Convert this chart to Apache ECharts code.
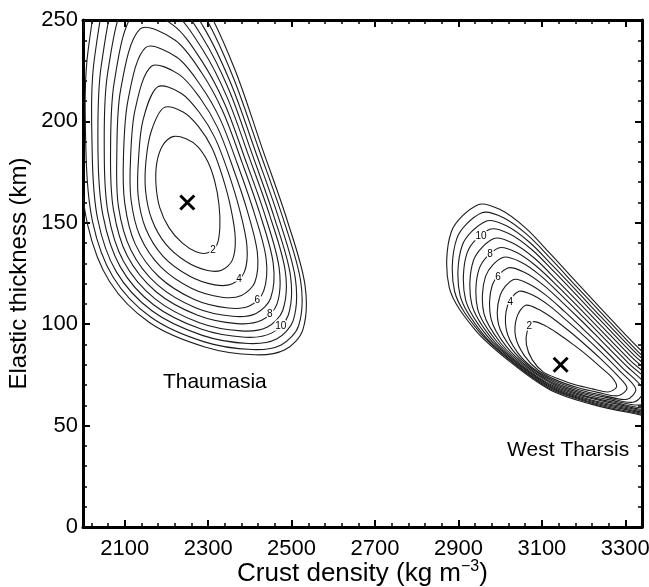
<!DOCTYPE html>
<html>
<head>
<meta charset="utf-8">
<script src="https://cdn.jsdelivr.net/npm/echarts@6/dist/echarts.min.js"></script>
<style>
  html, body { margin: 0; padding: 0; background: #fff; }
  #chart { width: 649px; height: 587px; }
</style>
</head>
<body>
<div id="chart"></div>
<script>
// Axis ticks (crust density in kg m^-3, elastic thickness in km)
const xMajorTicks = [2100, 2300, 2500, 2700, 2900, 3100, 3300];
const xMinorTicks = [2020, 2060, 2140, 2180, 2220, 2260, 2340, 2380, 2420, 2460,
                     2540, 2580, 2620, 2660, 2740, 2780, 2820, 2860, 2940, 2980,
                     3020, 3060, 3140, 3180, 3220, 3260];
const yMajorTicks = [0, 50, 100, 150, 200, 250];
const yMinorTicks = [10, 20, 30, 40, 60, 70, 80, 90, 110, 120, 130, 140,
                     160, 170, 180, 190, 210, 220, 230, 240];

// Misfit contour levels (innermost first)
const contourLevels = [2, 3, 4, 5, 6, 7, 8, 9, 10, 11, 12, 13];

// Thaumasia misfit contours: [density, thickness] vertices of each closed curve
const thaumasiaContours = [
  [[2215,192.5],[2247,191.5],[2275,187.6],[2299,180.2],[2316,170.3],[2326,158.9],[2328,147.6],[2321,139.2],[2299,135.2],[2271,135.7],[2237,140.2],[2206,147.6],[2184,157.5],[2175,168.8],[2177,179.7],[2191,188.1]],
  [[2194,206.8],[2240,204.6],[2277,197.4],[2309,187],[2334,173],[2354,157.6],[2365,142.5],[2358,131.6],[2332,126.6],[2296,126.6],[2247,130.9],[2198,139.6],[2165,151.6],[2150,165.8],[2151,180.6],[2164,195.4]],
  [[2179,217],[2235,213.9],[2279,204.4],[2316,192],[2348,175],[2375,156.7],[2393,138.6],[2387,125.8],[2358,119.9],[2316,119.4],[2255,123.8],[2192,133.5],[2150,147.3],[2132,163.7],[2133,181.2],[2144,200.7]],
  [[2164,227.2],[2230,223.2],[2281,211.4],[2323,196.8],[2360,176.9],[2394,155.8],[2418,135.2],[2412,120.7],[2380,114.2],[2333,113.3],[2261,117.6],[2187,128.1],[2137,143.2],[2115,161.6],[2114,181.9],[2125,205.9]],
  [[2150,236.4],[2225,231.6],[2282,217.7],[2329,201],[2371,178.5],[2410,155.1],[2439,132.3],[2433,116.3],[2400,109.1],[2348,108],[2267,112.2],[2182,123.4],[2125,139.6],[2100,159.8],[2097,182.5],[2108,210.6]],
  [[2137,245.6],[2221,240],[2284,224.1],[2335,205],[2381,179.9],[2424,154.5],[2456,130],[2450,112.9],[2415,105.3],[2359,103.9],[2271,108],[2178,119.5],[2115,136.5],[2085,158],[2081,183],[2090,215.3]],
  [[2124,253.8],[2216,247.5],[2285,229.7],[2340,208.5],[2389,181.2],[2436,153.9],[2470,128],[2465,109.9],[2428,101.9],[2369,100.3],[2275,104.4],[2175,116],[2106,133.7],[2073,156.5],[2066,183.5],[2075,219.5]],
  [[2112,262],[2212,254.9],[2287,235.3],[2345,212.1],[2398,182.5],[2448,153.4],[2485,126],[2479,106.9],[2441,98.5],[2379,96.7],[2279,100.7],[2172,112.6],[2097,131],[2060,155],[2051,184.1],[2059,223.7]],
  [[2100,270.2],[2208,262.4],[2288,240.9],[2350,215.5],[2406,183.6],[2458,152.9],[2497,124.3],[2492,104.4],[2452,95.6],[2388,93.6],[2283,97.6],[2169,109.6],[2089,128.4],[2048,153.5],[2036,184.6],[2044,227.8]],
  [[2088,278.3],[2204,269.9],[2289,246.5],[2354,218.9],[2414,184.8],[2469,152.4],[2509,122.6],[2504,101.9],[2464,92.7],[2396,90.5],[2286,94.5],[2166,106.5],[2080,125.8],[2035,152],[2022,185.1],[2028,232]],
  [[2076,286.5],[2200,277.3],[2291,252.1],[2359,222.3],[2422,186],[2480,151.9],[2522,120.9],[2517,99.3],[2475,89.8],[2405,87.5],[2289,91.4],[2163,103.4],[2072,123.3],[2023,150.5],[2007,185.6],[2013,236.2]],
  [[2064,294.7],[2196,284.8],[2292,257.7],[2364,225.6],[2429,187.1],[2489,151.5],[2532,119.5],[2527,97.2],[2484,87.4],[2412,84.9],[2292,88.8],[2160,100.7],[2064,120.9],[2011,149.1],[1992,186.1],[1997,240.4]]
];

// West Tharsis misfit contours
const tharsisContours = [
  [[3079,101.2],[3108,99.2],[3139,95.3],[3173,90.3],[3207,84.9],[3240,79],[3269,73.5],[3279,69.1],[3259,66.6],[3221,68.1],[3180,70.1],[3139,73.1],[3103,76.5],[3077,82.4],[3063,89.8],[3065,96.7]],
  [[3061,109.3],[3093,107.2],[3128,102.6],[3166,96.5],[3203,90],[3240,83.1],[3278,75.4],[3304,68.6],[3283,64.7],[3234,66.4],[3185,68.8],[3136,72.3],[3092,77.2],[3058,84.5],[3037,93.7],[3040,103.5]],
  [[3045,116.2],[3080,114.1],[3119,108.9],[3159,101.9],[3200,94.4],[3240,86.6],[3286,77.1],[3325,68.1],[3304,63],[3245,65],[3189,67.7],[3134,71.7],[3082,77.8],[3041,86.2],[3015,97.1],[3018,109.4]],
  [[3032,122],[3069,119.8],[3111,114.1],[3154,106.3],[3197,98],[3240,89.5],[3293,78.5],[3343,67.7],[3321,61.6],[3254,63.9],[3193,66.7],[3132,71.1],[3075,78.3],[3028,87.7],[2996,100],[3000,114.3]],
  [[3018,127.7],[3058,125.6],[3103,119.4],[3149,110.8],[3195,101.7],[3240,92.4],[3300,79.9],[3360,67.3],[3339,60.3],[3263,62.7],[3197,65.8],[3130,70.6],[3067,78.8],[3014,89.2],[2978,102.8],[2981,119.2]],
  [[3006,132.9],[3049,130.7],[3096,124.1],[3144,114.8],[3192,105],[3240,95],[3306,81.1],[3376,67],[3354,59],[3271,61.6],[3200,64.9],[3129,70.1],[3060,79.2],[3002,90.5],[2961,105.3],[2965,123.6]],
  [[2996,137.6],[3040,135.3],[3089,128.2],[3140,118.3],[3190,107.9],[3240,97.3],[3311,82.3],[3391,66.6],[3368,57.9],[3278,60.7],[3203,64.2],[3127,69.6],[3053,79.6],[2991,91.7],[2946,107.6],[2950,127.5]],
  [[2985,142.2],[3031,139.9],[3083,132.4],[3135,121.9],[3188,110.8],[3240,99.7],[3317,83.4],[3405,66.3],[3382,56.8],[3286,59.7],[3206,63.4],[3126,69.2],[3047,80],[2980,92.9],[2932,109.8],[2936,131.4]],
  [[2975,146.8],[3023,144.5],[3077,136.6],[3131,125.5],[3186,113.7],[3240,102],[3322,84.5],[3419,66],[3396,55.7],[3293,58.8],[3208,62.7],[3124,68.8],[3041,80.4],[2969,94.1],[2917,112.1],[2921,135.3]],
  [[2966,150.8],[3015,148.5],[3071,140.3],[3127,128.6],[3184,116.3],[3240,104],[3327,85.5],[3431,65.7],[3408,54.7],[3299,58],[3211,62],[3123,68.4],[3035,80.7],[2959,95.1],[2904,114.1],[2909,138.8]],
  [[2956,154.9],[3008,152.5],[3066,143.9],[3124,131.7],[3182,118.8],[3240,106.1],[3331,86.4],[3444,65.5],[3420,53.8],[3306,57.1],[3214,61.4],[3121,68],[3030,81.1],[2950,96.2],[2891,116],[2896,142.2]],
  [[2947,158.9],[3000,156.5],[3060,147.6],[3120,134.8],[3180,121.4],[3240,108.1],[3336,87.4],[3456,65.2],[3432,52.8],[3312,56.3],[3216,60.7],[3120,67.6],[3024,81.4],[2940,97.2],[2878,118],[2883,145.6]]
];

// Labelled contour levels and where their numbers sit
const labelText = ['2', '4', '6', '8', '10'];
const thaumasiaLabelPos = [[2312,136.5],[2374,122],[2418,111.8],[2448,105],[2474,99]];
const tharsisLabelPos = [[3070,98.8],[3024,111],[2995,123],[2976,134.5],[2954,143.5]];

// Best-fit (minimum misfit) positions
const bestFit = [[2250,160],[3145,80]];

// Region names
const regionNames = ['Thaumasia', 'West Tharsis'];
const regionPos = [[2316,71.6],[3163,38]];

const FONT = '"Liberation Sans", Arial, Helvetica, sans-serif';
const X_MIN = 2000, X_MAX = 3340, Y_MIN = 0, Y_MAX = 250;

function makeAxis(kind, position, ticks, tickLen, tickWidth, withLine, withLabels) {
  const isX = kind === 'x';
  return {
    type: 'value', gridIndex: 0, position: position,
    min: isX ? X_MIN : Y_MIN, max: isX ? X_MAX : Y_MAX,
    axisLine: { show: withLine, onZero: false, lineStyle: { color: '#000', width: 3 } },
    axisTick: { show: true, inside: true, length: tickLen, customValues: ticks,
                lineStyle: { color: '#000', width: tickWidth } },
    axisLabel: { show: withLabels, customValues: ticks, fontSize: 22, color: '#000',
                 fontFamily: FONT, margin: isX ? 11 : 5, formatter: v => String(v) },
    splitLine: { show: false }
  };
}

const xMain = makeAxis('x', 'bottom', xMajorTicks, 7, 2, true, true);
xMain.name = '{t|Crust density (kg m}{s|\u22123}{t|)}';
xMain.nameLocation = 'middle';
xMain.nameGap = 32;
xMain.nameMoveOverlap = false;
xMain.nameTextStyle = {
  fontFamily: FONT, color: '#000',
  rich: {
    t: { fontSize: 26, fontFamily: FONT, color: '#000', lineHeight: 30 },
    s: { fontSize: 16, fontFamily: FONT, color: '#000', verticalAlign: 'top', lineHeight: 30 }
  }
};

const yMain = makeAxis('y', 'left', yMajorTicks, 7, 2, true, true);
yMain.name = 'Elastic thickness (km)';
yMain.nameLocation = 'middle';
yMain.nameGap = 52;
yMain.nameMoveOverlap = false;
yMain.nameTextStyle = { fontSize: 24, fontFamily: FONT, color: '#000' };

function contourSeries(contours) {
  return {
    type: 'custom',
    coordinateSystem: 'cartesian2d',
    xAxisIndex: 0, yAxisIndex: 0,
    silent: true,
    data: contours.map((c, i) => ({ value: [c[0][0], c[0][1], i], name: String(contourLevels[i]) })),
    renderItem: function (params, api) {
      const pts = contours[api.value(2)].map(p => api.coord(p));
      const cs = params.coordSys;
      return {
        type: 'polygon',
        shape: { points: pts, smooth: 0.32 },
        style: { fill: 'none', stroke: '#1c1c1c', lineWidth: 1.1 },
        clipPath: { type: 'rect', shape: { x: cs.x, y: cs.y, width: cs.width, height: cs.height } }
      };
    }
  };
}

function textSeries(positions, names, fontSize, halo, z) {
  return {
    type: 'scatter', xAxisIndex: 0, yAxisIndex: 0, silent: true,
    symbolSize: 0,
    itemStyle: { opacity: 1 },
    data: positions.map((p, i) => ({ value: p, name: names[i] })),
    label: {
      show: true, position: 'inside', formatter: p => p.name, opacity: 1,
      fontSize: fontSize, fontFamily: FONT, color: '#000',
      textBorderColor: halo ? '#fff' : 'transparent', textBorderWidth: halo ? 3 : 0
    },
    z: z
  };
}

const option = {
  animation: false,
  backgroundColor: '#fff',
  grid: { left: 83, right: 7, top: 20, bottom: 60, containLabel: false, outerBoundsMode: 'none' },
  xAxis: [
    xMain,
    makeAxis('x', 'bottom', xMinorTicks, 4, 1.5, false, false),
    makeAxis('x', 'top', xMajorTicks, 7, 2, true, false),
    makeAxis('x', 'top', xMinorTicks, 4, 1.5, false, false)
  ],
  yAxis: [
    yMain,
    makeAxis('y', 'left', yMinorTicks, 4, 1.5, false, false),
    makeAxis('y', 'right', yMajorTicks, 7, 2, true, false),
    makeAxis('y', 'right', yMinorTicks, 4, 1.5, false, false)
  ],
  series: [
    contourSeries(thaumasiaContours),
    contourSeries(tharsisContours),
    textSeries(thaumasiaLabelPos, labelText, 10, true, 5),
    textSeries(tharsisLabelPos, labelText, 10, true, 5),
    {
      type: 'custom', coordinateSystem: 'cartesian2d', silent: true,
      data: bestFit,
      renderItem: function (params, api) {
        const c = api.coord([api.value(0), api.value(1)]);
        const s = 7;
        const st = { stroke: '#000', lineWidth: 3 };
        return {
          type: 'group', children: [
            { type: 'line', shape: { x1: c[0] - s, y1: c[1] - s, x2: c[0] + s, y2: c[1] + s }, style: st },
            { type: 'line', shape: { x1: c[0] - s, y1: c[1] + s, x2: c[0] + s, y2: c[1] - s }, style: st }
          ]
        };
      },
      z: 6
    },
    textSeries(regionPos, regionNames, 21, false, 4)
  ]
};

const chart = echarts.init(document.getElementById('chart'), null, { renderer: 'canvas' });
chart.setOption(option);
</script>
</body>
</html>
